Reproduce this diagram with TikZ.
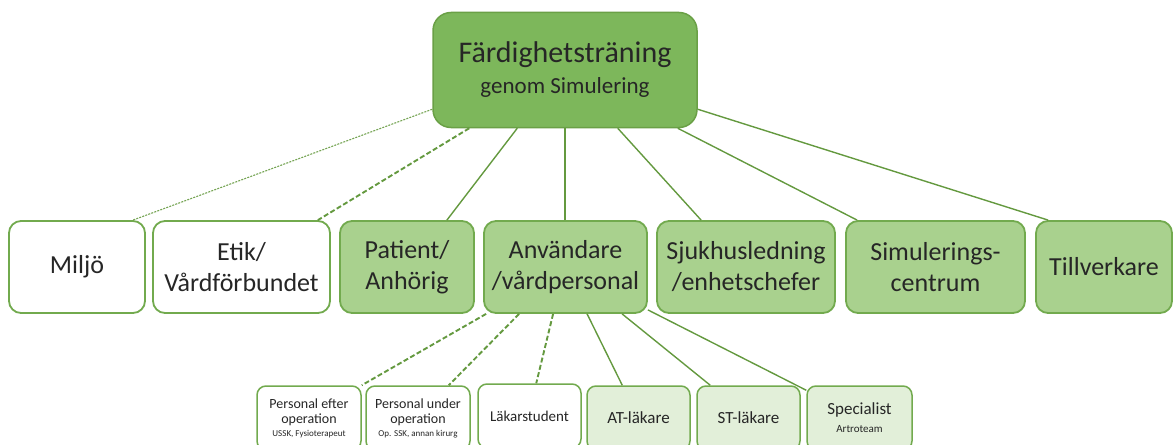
\documentclass[tikz,border=0pt]{standalone}
\usepackage{fontspec}
\setmainfont{Carlito}
\definecolor{topfill}{HTML}{7DB75B}
\definecolor{topdraw}{HTML}{6AA046}
\definecolor{midfill}{HTML}{A9D18E}
\definecolor{boxdraw}{HTML}{72AA4E}
\definecolor{lowfill}{HTML}{E2EFD9}
\definecolor{linecol}{HTML}{64993F}
\definecolor{txt}{HTML}{262626}
\tikzset{
  topbox/.style={draw=topdraw, fill=topfill, line width=1.5pt, rounded corners=18pt, inner sep=0pt, align=center, text=txt},
  midbox/.style={draw=boxdraw, line width=1.8pt, rounded corners=12pt, inner sep=0pt, align=center, text=txt,
    minimum height=92pt, font=\fontsize{26}{31}\selectfont},
  midwhite/.style={midbox, fill=white},
  midgreen/.style={midbox, fill=midfill},
  lowbox/.style={draw=boxdraw, line width=1.5pt, rounded corners=9pt, inner sep=0pt, align=center, text=txt,
    minimum height=64pt, minimum width=104pt},
  lowwhite/.style={lowbox, fill=white},
  lowgreen/.style={lowbox, fill=lowfill},
  conn/.style={draw=linecol, line width=1.4pt},
  connfine/.style={draw=linecol!90, line width=1.1pt, dash pattern=on 2pt off 1.2pt},
  conndash/.style={draw=linecol, line width=1.9pt, dash pattern=on 5pt off 2.5pt},
}
\begin{document}
\begin{tikzpicture}[x=1pt,y=-1pt]
\useasboundingbox (0,0) rectangle (1174,444);
\clip (0,0) rectangle (1174,444);

% top
\node[topbox, minimum width=264pt, minimum height=115pt, font=\fontsize{30}{31}\selectfont] (top) at (565,70)
  {Färdighetsträning\\{\fontsize{23}{31}\selectfont genom Simulering}};

% middle row
\node[midwhite, minimum width=136pt] (miljo) at (77,267) {Miljö};
\node[midwhite, minimum width=177pt] (etik) at (241.5,267) {Etik/\\Vårdförbundet};
\node[midgreen, minimum width=134pt] (patient) at (407,267) {Patient/\\Anhörig};
\node[midgreen, minimum width=163pt] (anv) at (565.5,267) {Användare\\/vårdpersonal};
\node[midgreen, minimum width=178pt] (sjuk) at (746,267) {Sjukhusledning\\/enhetschefer};
\node[midgreen, minimum width=179pt] (simul) at (935.5,267) {Simulerings-\\centrum};
\node[midgreen, minimum width=136pt] (till) at (1104,267) {Tillverkare};

% bottom row
\node[lowwhite, font=\fontsize{14}{15}\selectfont] (pe) at (309,418)
  {Personal efter\\operation\\[-2pt]{\fontsize{9}{11}\selectfont USSK, Fysioterapeut}};
\node[lowwhite, font=\fontsize{14}{15}\selectfont] (pu) at (418,418)
  {Personal under\\operation\\[-2pt]{\fontsize{9}{11}\selectfont Op. SSK, annan kirurg}};
\node[lowwhite, minimum width=103pt, font=\fontsize{15}{18}\selectfont] (lak) at (529.5,416) {Läkarstudent};
\node[lowgreen, minimum width=103pt, font=\fontsize{17}{20}\selectfont] (at) at (638.5,418) {AT-läkare};
\node[lowgreen, minimum width=103pt, font=\fontsize{17}{20}\selectfont] (st) at (748.5,418) {ST-läkare};
\node[lowgreen, minimum width=105pt, font=\fontsize{17}{18}\selectfont] (spec) at (859.5,418)
  {Specialist\\{\fontsize{11}{14}\selectfont Artroteam}};

% connectors top -> middle
\draw[connfine] ([yshift=19pt]top.south west) -- ([xshift=-13pt]miljo.north east);
\draw[conndash] ([xshift=37pt]top.south west) -- ([xshift=-13pt]etik.north east);
\draw[conn] ([xshift=85pt]top.south west) -- ([xshift=-28pt]patient.north east);
\draw[conn] (top.south) -- (top.south |- anv.north);
\draw[conn] ([xshift=-80pt]top.south east) -- ([xshift=45pt]sjuk.north west);
\draw[conn] ([xshift=-20pt]top.south east) -- ([xshift=12pt]simul.north west);
\draw[conn] ([yshift=19pt]top.south east) -- ([xshift=13pt]till.north west);

% connectors middle -> bottom
\draw[conndash] ([xshift=3pt]anv.south west) -- (pe.north east);
\draw[conndash] ([xshift=36pt]anv.south west) -- ([xshift=-22pt]pu.north east);
\draw[conndash] ([xshift=70pt]anv.south west) -- ([xshift=59pt]lak.north west);
\draw[conn] ([xshift=104pt]anv.south west) -- ([xshift=36pt]at.north west);
\draw[conn] ([xshift=139pt]anv.south west) -- ([xshift=14pt]st.north west);
\draw[conn] ([yshift=4pt]anv.south east) -- ([yshift=-5pt]spec.north west);
\end{tikzpicture}
\end{document}
